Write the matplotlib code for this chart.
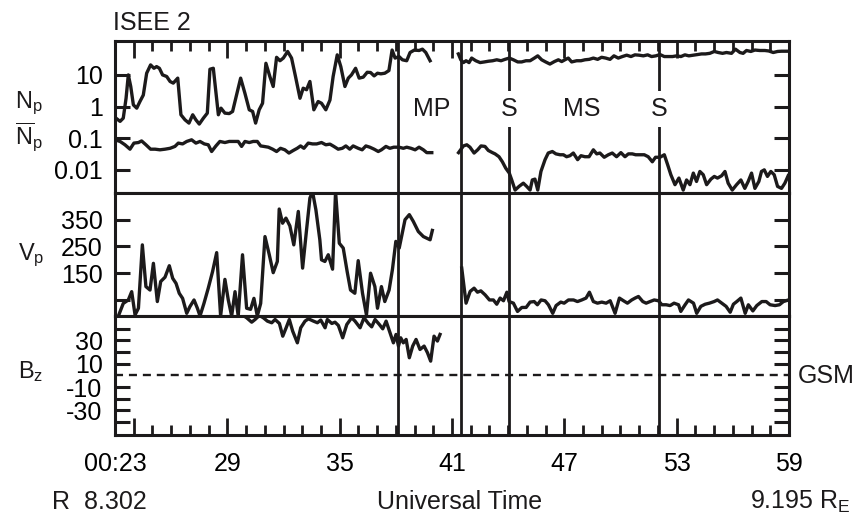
import numpy as np
import matplotlib
matplotlib.use('Agg')
import matplotlib.pyplot as plt
from matplotlib.ticker import FixedLocator, NullLocator

plt.rcParams['font.family'] = ['Liberation Sans', 'DejaVu Sans']
plt.rcParams['mathtext.fontset'] = 'custom'
plt.rcParams['mathtext.rm'] = 'Liberation Sans'
plt.rcParams['mathtext.it'] = 'Liberation Sans:italic'
plt.rcParams['font.size'] = 18
plt.rcParams['axes.linewidth'] = 2.2

INK = '#1c1a1b'

# time in minutes after 00:00 UT
np_hi_t1 = [23.05, 23.27, 23.44, 23.59, 23.71, 23.84, 23.98, 24.16, 24.33, 24.51,
            24.69, 24.90, 25.08, 25.22, 25.37, 25.54, 25.76, 25.94, 26.11, 26.35,
            26.52, 26.74, 26.95, 27.15, 27.32, 27.50, 27.72, 27.93, 28.07, 28.25,
            28.52, 28.66, 28.87, 29.10, 29.28, 29.49, 29.71, 29.94, 30.17, 30.35,
            30.51, 30.70, 30.88, 31.06, 31.27, 31.45, 31.63, 31.81, 31.99, 32.22,
            32.43, 32.64, 32.88, 33.05, 33.23, 33.41, 33.62, 33.85, 34.03, 34.26,
            34.48, 34.65, 34.87, 35.06, 35.28, 35.46, 35.63, 35.85, 36.04, 36.26,
            36.47, 36.65, 36.84, 37.02, 37.20, 37.41, 37.63, 37.80, 37.96, 38.17,
            38.35, 38.58, 38.76, 38.99, 39.24, 39.42, 39.60, 39.83]
np_hi_v1 = [0.43, 0.34, 0.43, 1.83, 10, 4.3, 1.13, 0.89, 1.44, 2.3,
            11.3, 20.7, 16.2, 18.3, 16.2, 10, 8.9, 6.2, 5.5, 7.9,
            0.55, 0.38, 0.30, 0.55, 0.38, 0.28, 0.43, 0.62, 15.1, 16.2,
            0.55, 0.89, 0.62, 0.60, 0.70, 2.3, 7.9, 2.6, 0.79, 0.70,
            0.30, 0.79, 1.27, 23.3, 8.9, 4.3, 36, 28, 34, 55,
            34, 8.9, 1.83, 3.8, 3.4, 6.2, 0.79, 1.44, 1.27, 0.79,
            1.6, 8.9, 43, 18.3, 4.3, 7.9, 10, 16.2, 7.9, 8.5,
            12.1, 11.9, 9.3, 11.3, 10.8, 11.3, 13.7, 61, 34, 38,
            30, 28, 51, 61, 59, 65, 51, 28]

np_hi_t2 = [41.34, 41.47, 41.61, 41.75, 41.91, 42.05, 42.27, 42.50, 42.73, 42.94,
            43.17, 43.39, 43.62, 43.83, 44.06, 44.28, 44.51, 44.72, 44.95, 45.17,
            45.40, 45.58, 45.79, 46.00, 46.23, 46.47, 46.68, 46.86, 47.03, 47.21,
            47.39, 47.66, 47.89, 48.10, 48.33, 48.55, 48.78, 48.99, 49.21, 49.44,
            49.65, 49.88, 50.10, 50.33, 50.56, 50.77, 50.99, 51.22, 51.45, 51.66,
            51.89, 52.11, 52.34, 52.55, 52.78, 53.00, 53.23, 53.44, 53.65, 53.89,
            54.12, 54.33, 54.54, 54.77, 55.01, 55.22, 55.45, 55.66, 55.93, 56.14,
            56.38, 56.55, 56.73, 56.96, 57.18, 57.44, 57.71, 57.92, 58.16, 58.39,
            58.60, 58.92]
np_hi_v2 = [46, 30, 24.5, 28, 24.5, 34, 28, 24.5, 25.7, 27,
            28, 30, 28, 31, 34, 30, 25.7, 25.7, 28, 28,
            34, 40, 30, 25.7, 22, 26.4, 30, 26.4, 30, 34,
            25.7, 28, 28, 30, 31, 34, 31, 36, 34, 31,
            40, 34, 38, 42, 38, 43, 42, 40, 43, 38,
            40, 44, 38, 38, 38, 40, 38, 43, 40, 42,
            44, 46, 46, 48, 55, 51, 48, 51, 48, 65,
            51, 48, 59, 55, 61, 59, 59, 57, 51, 55,
            56, 56]

np_lo_t1 = [23.00, 23.27, 23.53, 23.80, 24.01, 24.25, 24.42, 24.65, 24.90, 25.14,
            25.40, 25.67, 25.94, 26.20, 26.38, 26.61, 26.83, 27.09, 27.32, 27.54,
            27.77, 27.98, 28.16, 28.39, 28.60, 28.87, 29.10, 29.35, 29.58, 29.76,
            29.94, 30.17, 30.38, 30.60, 30.78, 30.95, 31.19, 31.42, 31.63, 31.84,
            32.07, 32.29, 32.52, 32.73, 32.91, 33.09, 33.32, 33.55, 33.77, 34.03,
            34.26, 34.48, 34.69, 34.92, 35.14, 35.33, 35.54, 35.72, 35.99, 36.20,
            36.40, 36.61, 36.84, 37.06, 37.23, 37.47, 37.68, 37.89, 38.17, 38.40,
            38.58, 38.81, 39.03, 39.24, 39.47, 39.65, 39.92]
np_lo_v1 = [0.089, 0.079, 0.062, 0.045, 0.070, 0.073, 0.082, 0.062, 0.045, 0.045,
            0.043, 0.045, 0.048, 0.055, 0.070, 0.066, 0.079, 0.089, 0.070, 0.079,
            0.066, 0.062, 0.038, 0.057, 0.079, 0.073, 0.079, 0.079, 0.079, 0.055,
            0.079, 0.073, 0.079, 0.079, 0.057, 0.055, 0.052, 0.045, 0.038, 0.048,
            0.043, 0.034, 0.041, 0.048, 0.057, 0.048, 0.070, 0.066, 0.066, 0.073,
            0.062, 0.065, 0.055, 0.045, 0.048, 0.057, 0.045, 0.057, 0.048, 0.043,
            0.057, 0.052, 0.045, 0.038, 0.043, 0.055, 0.048, 0.052, 0.052, 0.048,
            0.052, 0.048, 0.043, 0.052, 0.043, 0.035, 0.035]

np_lo_t2 = [41.35, 41.61, 41.79, 41.96, 42.18, 42.37, 42.55, 42.76, 42.94, 43.16,
            43.30, 43.51, 43.69, 43.87, 44.06, 44.19, 44.37, 44.58, 44.81, 44.99,
            45.17, 45.29, 45.43, 45.58, 45.75, 45.97, 46.14, 46.36, 46.55, 46.77,
            46.95, 47.12, 47.30, 47.48, 47.71, 47.89, 48.10, 48.32, 48.55, 48.73,
            48.90, 49.13, 49.35, 49.56, 49.79, 50.02, 50.24, 50.42, 50.63, 50.81,
            51.04, 51.27, 51.48, 51.70, 51.87, 52.11, 52.34, 52.52, 52.69, 52.91,
            53.12, 53.35, 53.53, 53.71, 53.89, 54.06, 54.24, 54.42, 54.60, 54.83,
            55.01, 55.18, 55.40, 55.58, 55.75, 55.97, 56.20, 56.43, 56.64, 56.82,
            57.00, 57.18, 57.39, 57.53, 57.68, 57.85, 58.03, 58.21, 58.39, 58.60,
            58.78, 58.96]
np_lo_v2 = [0.035, 0.057, 0.062, 0.052, 0.034, 0.043, 0.057, 0.055, 0.041, 0.035,
            0.032, 0.026, 0.018, 0.0113, 0.0079, 0.0048, 0.0023, 0.0030, 0.0038, 0.0030,
            0.0023, 0.0048, 0.0051, 0.0023, 0.0089, 0.021, 0.034, 0.038, 0.032, 0.030,
            0.030, 0.026, 0.028, 0.034, 0.021, 0.028, 0.026, 0.026, 0.043, 0.032,
            0.034, 0.025, 0.030, 0.034, 0.026, 0.035, 0.026, 0.032, 0.032, 0.030,
            0.030, 0.030, 0.026, 0.018, 0.025, 0.025, 0.030, 0.0144, 0.0070, 0.0034,
            0.0055, 0.0023, 0.0048, 0.0034, 0.0079, 0.0043, 0.0089, 0.0070, 0.0034, 0.0051,
            0.0062, 0.0055, 0.0065, 0.0089, 0.0038, 0.0023, 0.0034, 0.0048, 0.0026, 0.0043,
            0.0079, 0.0026, 0.0043, 0.0089, 0.010, 0.0062, 0.0089, 0.0070, 0.0030, 0.0026,
            0.0038, 0.0066]

vp_t1 = [23.18, 23.44, 23.71, 23.89, 24.07, 24.25, 24.46, 24.65, 24.87, 25.05,
         25.26, 25.44, 25.67, 25.90, 26.08, 26.26, 26.43, 26.61, 26.83, 27.00,
         27.22, 27.40, 27.54, 27.75, 27.98, 28.21, 28.43, 28.64, 28.87, 29.05,
         29.23, 29.41, 29.58, 29.81, 30.03, 30.24, 30.42, 30.60, 30.78, 31.01,
         31.24, 31.45, 31.67, 31.77, 31.95, 32.13, 32.34, 32.55, 32.79, 33.02,
         33.23, 33.41, 33.55, 33.73, 33.94, 34.03, 34.21, 34.39, 34.62, 34.78,
         34.98, 35.19, 35.40, 35.58, 35.81, 35.99, 36.22, 36.43, 36.65, 36.88,
         37.02, 37.23, 37.41, 37.64, 37.82, 38.00, 38.18, 38.49, 38.72, 38.93,
         39.20, 39.47, 39.83, 39.95]
vp_v1 = [-10, 37, 50, 81, -6, 19, 256, 100, 87, 187,
         44, 119, 135, 178, 131, 112, 75, 56, 0, 25,
         50, 19, -10, 37, 94, 156, 227, -10, 127, 50,
         -10, 81, -10, 219, 19, 15, 56, -10, 37, 287,
         219, 152, 194, 390, 337, 356, 327, 256, 381, 169,
         312, 431, 455, 387, 275, 200, 194, 219, 165, 455,
         262, 244, 156, 87, 75, 197, 75, -6, 150, 100,
         19, 100, 44, 87, 165, 269, 244, 350, 369, 344,
         306, 287, 275, 310]

vp_t2 = [41.52, 41.75, 41.97, 42.18, 42.36, 42.54, 42.77, 43.00, 43.21, 43.39,
         43.57, 43.75, 43.93, 44.05, 44.28, 44.50, 44.73, 44.96, 45.17, 45.39,
         45.56, 45.76, 45.97, 46.15, 46.38, 46.56, 46.81, 46.99, 47.22, 47.49,
         47.70, 47.93, 48.16, 48.34, 48.55, 48.77, 49.00, 49.23, 49.45, 49.71,
         49.94, 50.16, 50.37, 50.60, 50.78, 50.96, 51.19, 51.37, 51.58, 51.80,
         52.03, 52.21, 52.44, 52.65, 52.86, 53.10, 53.22, 53.45, 53.63, 53.90,
         54.07, 54.29, 54.52, 54.75, 55.00, 55.18, 55.41, 55.64, 55.86, 56.03,
         56.21, 56.43, 56.66, 56.83, 57.07, 57.28, 57.55, 57.78, 57.99, 58.26,
         58.49, 58.70, 58.97]
vp_v2 = [169, 38, 82, 94, 79, 84, 69, 50, 50, 34,
         57, 47, 79, 44, 38, 7, 22, 22, 42, 44,
         32, 50, 47, 32, 0, 29, 42, 38, 50, 50,
         44, 50, 57, 79, 44, 38, 42, 38, 47, 0,
         57, 47, 38, 50, 57, 63, 44, 38, 44, 50,
         47, 32, 32, 29, 38, 32, 7, 32, 50, 38,
         0, 26, 34, 38, 44, 50, 38, 26, 4, 34,
         44, 57, 0, 32, 9, 29, 44, 44, 32, 29,
         32, 44, 50]

bz_t = [29.41, 30.03, 30.30, 30.48, 30.71, 30.92, 31.14, 31.37, 31.55, 31.78,
        31.96, 32.14, 32.31, 32.49, 32.74, 32.92, 33.15, 33.33, 33.60, 33.81,
        33.99, 34.22, 34.34, 34.58, 34.75, 34.93, 35.16, 35.38, 35.64, 35.82,
        36.09, 36.30, 36.53, 36.71, 36.89, 37.12, 37.30, 37.48, 37.69, 37.87,
        38.01, 38.14, 38.26, 38.40, 38.55, 38.72, 38.90, 39.08, 39.29, 39.51,
        39.69, 39.86, 40.04, 40.22, 40.36]
bz_v = [56, 49.5, 45.7, 48, 51.5, 49.5, 46.6, 45.2, 48, 44.6,
        33.7, 40.9, 48, 38, 28, 40.9, 46.6, 48.6, 46.6, 45.2,
        47.5, 40.9, 48, 44.6, 45.7, 42.9, 32.3, 43.7, 49.5, 46.6,
        40.9, 49.5, 44.6, 41.7, 48, 43.7, 40, 46.6, 36.6, 28,
        35.2, 25.2, 32.3, 28, 30.9, 15.2, 25.2, 30.9, 22.3, 25.2,
        19.5, 12.3, 33.7, 29.5, 35.2]

# boundaries: magnetopause, data gap edge, shocks
t_mp = 38.1
t_gap = 41.47
t_s1 = 44.06
t_s2 = 52.04
t_ms = 47.93

x_major = [23, 24, 29, 35, 41, 47, 53, 59]
x_labels = ['00:23', '', '29', '35', '41', '47', '53', '59']
x_minor = list(range(24, 59))

fig = plt.figure(figsize=(8.59, 5.16), dpi=100)
left, width = 0.1339, 0.7846
ax1 = fig.add_axes([left, 0.626, width, 0.2946])
ax2 = fig.add_axes([left, 0.3876, width, 0.2384], sharex=ax1)
ax3 = fig.add_axes([left, 0.157, width, 0.2306], sharex=ax1)

lw = 2.4
ax1.plot(np_hi_t1, np_hi_v1, color=INK, lw=lw)
ax1.plot(np_hi_t2, np_hi_v2, color=INK, lw=lw)
ax1.plot(np_lo_t1, np_lo_v1, color=INK, lw=lw)
ax1.plot(np_lo_t2, np_lo_v2, color=INK, lw=lw)
ax1.set_yscale('log')
ax1.set_ylim(0.00186, 118)

ax2.plot(vp_t1, vp_v1, color=INK, lw=lw)
ax2.plot(vp_t2, vp_v2, color=INK, lw=lw)
ax2.set_ylim(-10, 450)

ax3.plot(bz_t, bz_v, color=INK, lw=lw)
ax3.axhline(0, color=INK, lw=1.7, ls=(0, (3.4, 2.5)))
ax3.set_ylim(-51, 51)

ax1.set_xlim(23, 59)

for ax in (ax1, ax2, ax3):
    for t in (t_mp, t_gap, t_s1, t_s2):
        ax.axvline(t, color=INK, lw=2.0, zorder=1)
    for sp in ax.spines.values():
        sp.set_color(INK)
        sp.set_linewidth(2.2)
    ax.tick_params(axis='y', which='major', direction='in', left=True, right=True,
                   length=11, width=2.2, color=INK, pad=9)
    ax.tick_params(axis='y', which='minor', left=False, right=False)

ax1.xaxis.set_major_locator(FixedLocator(x_major))
ax1.xaxis.set_minor_locator(FixedLocator(x_minor))
ax1.xaxis.set_ticklabels(x_labels)
for ax in (ax1, ax2, ax3):
    ax.tick_params(axis='x', which='both', direction='in', bottom=False, top=False,
                   labelbottom=False, color=INK, width=2.0)
    ax.tick_params(axis='x', which='major', length=12)
    ax.tick_params(axis='x', which='minor', length=7)
ax1.tick_params(axis='x', which='both', top=True)
ax3.tick_params(axis='x', which='both', bottom=True, labelbottom=True, pad=12)

ax1.yaxis.set_major_locator(FixedLocator([0.01, 0.1, 1, 10]))
ax1.yaxis.set_minor_locator(NullLocator())
ax1.set_yticklabels(['0.01', '0.1', '1', '10'])
ax2.yaxis.set_major_locator(FixedLocator([50, 150, 250, 350]))
ax2.set_yticklabels(['', '150', '250', '350'])
ax3.yaxis.set_major_locator(FixedLocator([-40, -30, -20, -10, 10, 20, 30, 40]))
ax3.set_yticklabels(['', '-30', '', '-10', '10', '', '30', ''])

# region labels in the top panel
trans = ax1.get_xaxis_transform()
ax1.text(39.9, 0.553, 'MP', transform=trans, ha='center', va='center', color=INK)
ax1.text(t_ms, 0.553, 'MS', transform=trans, ha='center', va='center', color=INK)
for t in (t_s1, t_s2):
    ax1.text(t, 0.553, 'S', transform=trans, ha='center', va='center', color=INK,
             bbox=dict(boxstyle='square,pad=0.25', fc='white', ec='none'), zorder=5)

side = 17
fig.text(0.1315, 0.956, 'ISEE 2', ha='left', va='center', color=INK)
fig.text(0.0175, 1 - 108 / 516, r'$\mathrm{N_p}$', ha='left', va='baseline', color=INK, fontsize=side)
fig.text(0.0175, 1 - 145 / 516, r'$\mathrm{\overline{N}_p}$', ha='left', va='baseline', color=INK, fontsize=side)
fig.text(0.021, 1 - 260 / 516, r'$\mathrm{V_p}$', ha='left', va='baseline', color=INK, fontsize=side)
fig.text(0.021, 1 - 378 / 516, r'$\mathrm{B_z}$', ha='left', va='baseline', color=INK, fontsize=side)
fig.text(798 / 859, 1 - 376 / 516, 'GSM', ha='left', va='center', color=INK)

fig.text(52 / 859, 1 - 509 / 516, 'R  8.302', ha='left', va='baseline', color=INK)
fig.text(460 / 859, 1 - 509 / 516, 'Universal Time', ha='center', va='baseline', color=INK)
fig.text(750 / 859, 1 - 509 / 516, r'9.195 $\mathrm{R_E}$', ha='left', va='baseline', color=INK)

fig.savefig('out.png', dpi=100)
